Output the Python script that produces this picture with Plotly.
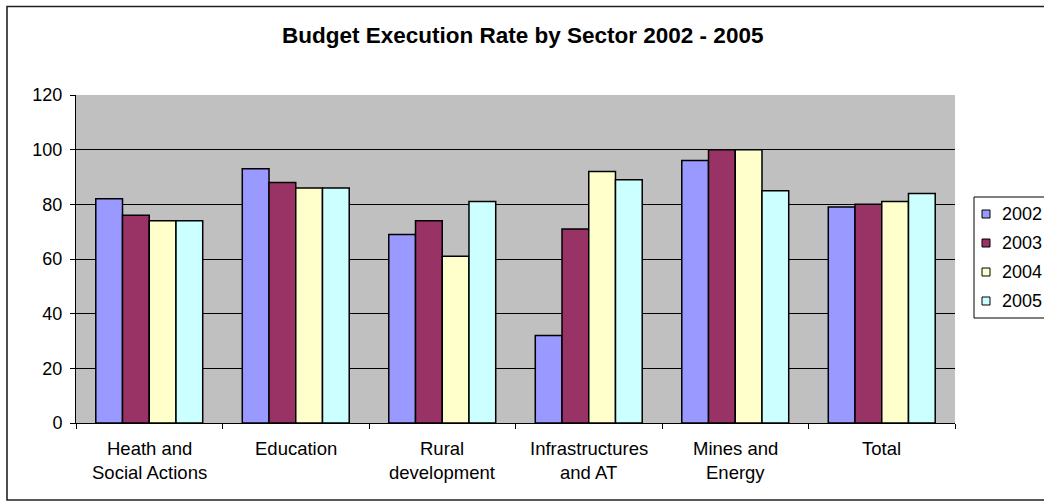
import plotly.graph_objects as go

categories = ["Heath and<br>Social Actions", "Education", "Rural<br>development",
              "Infrastructures<br>and AT", "Mines and<br>Energy", "Total"]
years = ["2002", "2003", "2004", "2005"]
v2002 = [82, 93, 69, 32, 96, 79]
v2003 = [76, 88, 74, 71, 100, 80]
v2004 = [74, 86, 61, 92, 100, 81]
v2005 = [74, 86, 81, 89, 85, 84]
y_ticks = [0, 20, 40, 60, 80, 100, 120]

series = [v2002, v2003, v2004, v2005]
colors = ["#9999FF", "#993366", "#FFFFCC", "#CCFFFF"]

W, H = 1044, 501
L, R, T, B = 76, 955, 95, 423
pw, ph = R - L, B - T

def px(x):
    return (x - L) / pw

def py(y):
    return (B - y) / ph

fig = go.Figure()
for name, vals, col in zip(years, series, colors):
    fig.add_trace(go.Bar(x=categories, y=vals, name=name, marker_color=col,
                         marker_line_color="black", marker_line_width=1.5,
                         showlegend=False))

font = "Arial, Liberation Sans, sans-serif"

# category labels, line by line
for cat in categories:
    for i, line in enumerate(cat.split("<br>")):
        fig.add_annotation(x=cat, xref="x", y=py(448 + 24 * i), yref="paper",
                           text=line, showarrow=False, yanchor="middle",
                           font=dict(family=font, size=18.5, color="black"))

# title
fig.add_annotation(x=px(522), y=py(36), xref="paper", yref="paper",
                   text="<b>Budget Execution Rate by Sector 2002 - 2005</b>",
                   showarrow=False, yanchor="middle",
                   font=dict(family=font, size=22.5, color="black"))

shapes = []
# outer border
shapes.append(dict(type="rect", xref="paper", yref="paper",
                   x0=px(7), x1=px(1100), y0=py(500), y1=py(6.5),
                   line=dict(color="#222222", width=1.6), layer="below"))
# legend box
shapes.append(dict(type="rect", xref="paper", yref="paper",
                   x0=px(974), x1=px(1080), y0=py(318), y1=py(197),
                   line=dict(color="black", width=1), fillcolor="white"))
for i, (name, col) in enumerate(zip(years, colors)):
    yc = 214 + 29 * i
    shapes.append(dict(type="rect", xref="paper", yref="paper",
                       x0=px(982), x1=px(990), y0=py(yc + 4), y1=py(yc - 4),
                       line=dict(color="black", width=1), fillcolor=col))
    fig.add_annotation(x=px(1000), y=py(yc), xref="paper", yref="paper",
                       text=name, showarrow=False, xanchor="left", yanchor="middle",
                       font=dict(family=font, size=18, color="black"))

fig.update_layout(
    width=W, height=H,
    margin=dict(l=L, r=W - R, t=T, b=H - B, autoexpand=False),
    paper_bgcolor="white", plot_bgcolor="#C0C0C0",
    barmode="group", bargap=0.27, bargroupgap=0,
    shapes=shapes, showlegend=False,
    font=dict(family=font, size=16, color="black"),
)
fig.update_xaxes(showticklabels=False, tickson="boundaries", ticks="outside",
                 ticklen=5, tickcolor="black", showline=True, linecolor="black",
                 linewidth=1, showgrid=False, mirror=False)
fig.update_yaxes(range=[0, 120], tickvals=y_ticks, ticks="outside", ticklen=5,
                 tickcolor="black", showline=True, linecolor="black", linewidth=1,
                 showgrid=True, gridcolor="black", gridwidth=1, zeroline=False,
                 ticklabelstandoff=4,
                 tickfont=dict(family=font, size=18, color="black"))

fig.write_html("out.html")
